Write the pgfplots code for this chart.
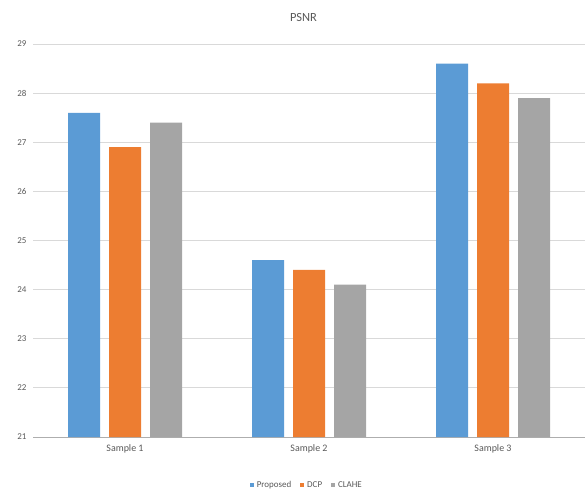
\documentclass[border=0pt]{standalone}
\usepackage{fontspec}
\setmainfont{Carlito}
\usepackage{pgfplots}
\pgfplotsset{compat=1.18}
\definecolor{cblue}{HTML}{5B9BD5}
\definecolor{corange}{HTML}{ED7D31}
\definecolor{cgray}{HTML}{A5A5A5}
\definecolor{ctext}{HTML}{595959}
\definecolor{cgrid}{HTML}{D9D9D9}
\begin{document}
\begin{tikzpicture}
\path[use as bounding box] (-33bp,-58bp) rectangle (552bp,437bp);
\begin{axis}[
  at={(0,0)}, anchor=south west,
  scale only axis, width=552bp, height=393bp,
  ybar=9bp, bar width=32bp,
  xmin=-0.5, xmax=2.5, ymin=21, ymax=29,
  xtick=data, xticklabels={Sample 1, Sample 2, Sample 3},
  ytick={21,22,...,29},
  ymajorgrids, grid style={cgrid, line width=0.8bp},
  axis x line*=bottom, axis y line*=left,
  x axis line style={cgrid!80!black, line width=0.8bp, -},
  y axis line style={draw=none},
  xtick style={draw=none},
  ytick style={draw=none},
  /pgf/number format/assume math mode=true,
  xticklabel style={font=\fontsize{10}{12}\selectfont, text=ctext},
  yticklabel style={font=\fontsize{9}{11}\selectfont, text=ctext, xshift=-3bp},
  title={PSNR},
  title style={font=\fontsize{12.5}{14}\selectfont, text=ctext, at={(0.49,1)}, yshift=13bp},
  legend style={at={(0.496,-0.122)}, anchor=center, draw=none, legend columns=-1,
    font=\fontsize{9}{11}\selectfont, text=ctext,
    /tikz/every odd column/.append style={column sep=1bp},
    /tikz/every even column/.append style={column sep=7bp}},
  legend image code/.code={\fill[#1] (0bp,-2bp) rectangle (4bp,2bp);},
  clip=false,
]
\addplot[fill=cblue, draw=none] coordinates {(0,27.6) (1,24.6) (2,28.6)};
\addplot[fill=corange, draw=none] coordinates {(0,26.9) (1,24.4) (2,28.2)};
\addplot[fill=cgray, draw=none] coordinates {(0,27.4) (1,24.1) (2,27.9)};
\legend{Proposed, DCP, CLAHE}
\end{axis}
\end{tikzpicture}
\end{document}
